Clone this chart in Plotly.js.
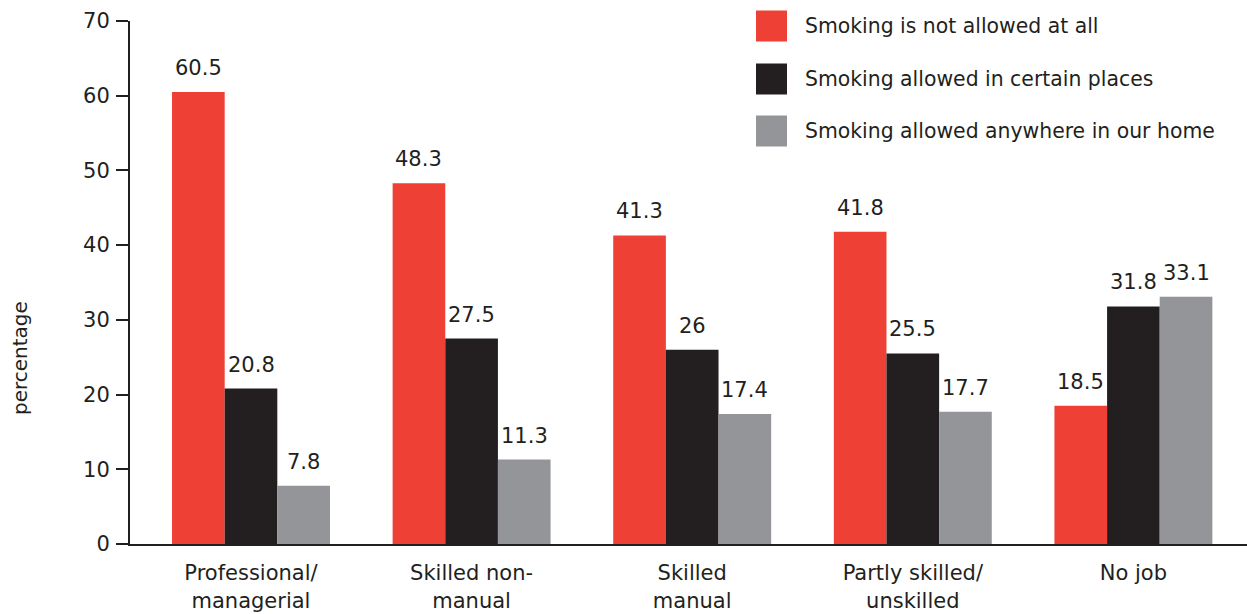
<!DOCTYPE html>
<html><head><meta charset="utf-8">
<script src="https://cdn.plot.ly/plotly-3.0.1.min.js"></script>
<style>body{margin:0;padding:0;background:#fff}#chart{width:1247px;height:614px}</style>
</head><body><div id="chart"></div>
<script>
const categories = ["Professional/<br>managerial","Skilled non-<br>manual","Skilled<br>manual","Partly skilled/<br>unskilled","No job"];
const seriesNames = ["Smoking is not allowed at all","Smoking allowed in certain places","Smoking allowed anywhere in our home"];
const notAllowed = [60.5, 48.3, 41.3, 41.8, 18.5];
const certainPlaces = [20.8, 27.5, 26, 25.5, 31.8];
const anywhere = [7.8, 11.3, 17.4, 17.7, 33.1];
const yTicks = [0,10,20,30,40,50,60,70];
const colors = ["#ee4035","#231f20","#939598"];
const seriesValues = [notAllowed, certainPlaces, anywhere];
const textColor = "#231f20";
const FONT = "DejaVu Sans, Liberation Sans, Arial, sans-serif";
const FS = 21;

const W = 1247, H = 614, ml = 130, mr = 0, mt = 21, mb = 70;
const pw = W - ml - mr, ph = H - mt - mb;

const traces = seriesValues.map((vals, i) => ({
  type: "bar", x: categories.map((c, k) => k), y: vals, name: seriesNames[i],
  marker: {color: colors[i], line: {width: 0}}, showlegend: false, hoverinfo: "none"
}));

const nS = seriesValues.length;
const bargap = 0.284;
const groupW = 1 - bargap;
const annotations = [];
seriesValues.forEach((vals, i) => {
  vals.forEach((v, k) => {
    const xoff = -groupW / 2 + groupW / nS * (i + 0.5);
    annotations.push({x: k + xoff, y: v, xref: "x", yref: "y", text: String(v), showarrow: false,
      yanchor: "bottom", yshift: 10, font: {family: FONT, size: FS, color: textColor}});
  });
});
// y-axis title
annotations.push({xref: "paper", yref: "paper", x: (20 - ml) / pw, y: (H - mb - 358) / ph, text: "percentage",
  textangle: -90, showarrow: false, xanchor: "center", yanchor: "middle", font: {family: FONT, size: 20, color: textColor}});

// custom legend
const shapes = [];
const legRowY = [26, 79, 131];
seriesNames.forEach((n, i) => {
  const cy = legRowY[i];
  shapes.push({type: "rect", xref: "paper", yref: "paper",
    x0: (756 - ml) / pw, x1: (787 - ml) / pw,
    y0: (H - mb - (cy + 15.5)) / ph, y1: (H - mb - (cy - 15.5)) / ph,
    fillcolor: colors[i], line: {width: 0}});
  annotations.push({xref: "paper", yref: "paper", x: (803 - ml) / pw, y: (H - mb - cy) / ph,
    text: n, showarrow: false, xanchor: "left", yanchor: "middle",
    font: {family: FONT, size: 20.4, color: textColor}});
});

const layout = {
  width: W, height: H, margin: {l: ml, r: mr, t: mt, b: mb, pad: 0},
  paper_bgcolor: "#fff", plot_bgcolor: "#fff",
  barmode: "group", bargap: bargap, bargroupgap: 0,
  font: {family: FONT, size: FS, color: textColor},
  xaxis: {range: [-121 / 220.6, (W - 251) / 220.6], tickmode: "array",
    tickvals: categories.map((c, k) => k), ticktext: categories,
    showline: true, linecolor: textColor, linewidth: 2, ticks: "", showgrid: false, zeroline: false,
    ticklabelstandoff: 9,
    tickfont: {family: FONT, size: FS, color: textColor}, fixedrange: true},
  yaxis: {range: [0, 70], tickmode: "array", tickvals: yTicks, ticktext: yTicks.map(String),
    showline: true, linecolor: textColor, linewidth: 2, ticks: "outside", ticklen: 12, tickwidth: 2,
    tickcolor: textColor, showgrid: false, zeroline: false, ticklabelstandoff: 2,
    tickfont: {family: FONT, size: FS, color: textColor}, fixedrange: true},
  annotations: annotations, shapes: shapes, showlegend: false
};
Plotly.newPlot("chart", traces, layout, {displayModeBar: false, staticPlot: true});
</script></body></html>
